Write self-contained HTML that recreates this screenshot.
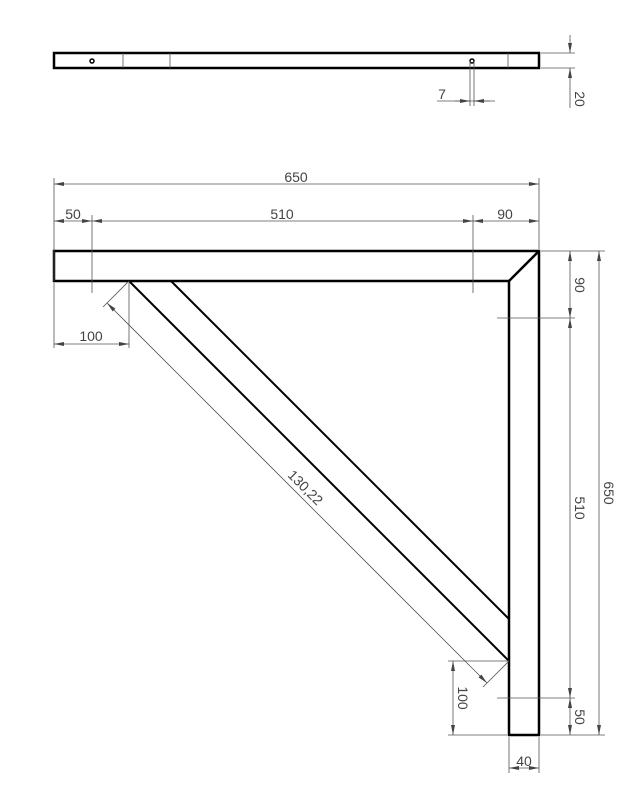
<!DOCTYPE html>
<html><head><style>body{margin:0;background:#fff}svg{display:block}</style></head><body>
<svg width="639" height="811" xmlns="http://www.w3.org/2000/svg" font-family="Liberation Sans, sans-serif">
<defs>
<marker id="a" viewBox="0 0 10 4" refX="10" refY="2" markerWidth="10" markerHeight="4" orient="auto-start-reverse" markerUnits="userSpaceOnUse"><path d="M0,0L10,2L0,4z" fill="#444"/></marker>
</defs>
<g stroke="#000" stroke-width="2.5" fill="none">
<rect x="54" y="53" width="485" height="15"/>
<circle cx="92" cy="61" r="2" stroke-width="1.5"/>
<circle cx="472" cy="61" r="2" stroke-width="1.5"/>
<path d="M54,251H539V735H509V281H54Z"/>
<path d="M539,251L509,281"/>
<path d="M129,281L509,661M171,281L509,619" stroke-width="2"/>
</g>
<g stroke="#555" stroke-width="0.8" fill="none">
<path d="M123,53V68M170,53V68M508,53V68"/>
<path d="M541,53H575M541,68H575"/>
<path d="M570,35V53" marker-end="url(#a)"/><path d="M570,108V68" marker-end="url(#a)"/>
<path d="M470,61V106M474,61V106M437,101H495"/>
<path d="M455,101H470" marker-end="url(#a)"/><path d="M490,101H474" marker-end="url(#a)"/>
<path d="M54,178V281M539,178V249M92,215V293M473,215V293"/>
<path d="M54,184H539" marker-start="url(#a)" marker-end="url(#a)"/>
<path d="M54,221H92" marker-start="url(#a)" marker-end="url(#a)"/>
<path d="M92,221H473" marker-start="url(#a)" marker-end="url(#a)"/>
<path d="M473,221H539" marker-start="url(#a)" marker-end="url(#a)"/>
<path d="M541,251H605M497,318H575M497,698H575M541,735H605"/>
<path d="M570,251V318" marker-start="url(#a)" marker-end="url(#a)"/>
<path d="M570,318V698" marker-start="url(#a)" marker-end="url(#a)"/>
<path d="M570,698V735" marker-start="url(#a)" marker-end="url(#a)"/>
<path d="M599,251V735" marker-start="url(#a)" marker-end="url(#a)"/>
<path d="M448,661H509M448,735H507"/>
<path d="M453,661V735" marker-start="url(#a)" marker-end="url(#a)"/>
<path d="M509,737V773M539,737V773"/>
<path d="M509,768H539" marker-start="url(#a)" marker-end="url(#a)"/>
<path d="M54,283V348M129,283V348"/>
<path d="M54,344H129" marker-start="url(#a)" marker-end="url(#a)"/>
<path d="M129,281L103,307M509,661L483,687"/>
<path d="M107,303L487,683" marker-start="url(#a)" marker-end="url(#a)"/>
</g>
<g fill="#444" font-size="14">
<text x="296" y="182" text-anchor="middle">650</text>
<text x="73" y="219" text-anchor="middle">50</text>
<text x="282" y="219" text-anchor="middle">510</text>
<text x="505" y="219" text-anchor="middle">90</text>
<text x="91" y="341" text-anchor="middle">100</text>
<text x="524" y="766" text-anchor="middle">40</text>
<text x="442" y="99" text-anchor="middle">7</text>
<text transform="translate(575,99) rotate(90)" text-anchor="middle">20</text>
<text transform="translate(575,285) rotate(90)" text-anchor="middle">90</text>
<text transform="translate(575,508) rotate(90)" text-anchor="middle">510</text>
<text transform="translate(575,717) rotate(90)" text-anchor="middle">50</text>
<text transform="translate(604,493) rotate(90)" text-anchor="middle">650</text>
<text transform="translate(458,698) rotate(90)" text-anchor="middle">100</text>
<text transform="translate(302,491) rotate(45)" text-anchor="middle">130,22</text>
</g>
</svg>
</body></html>
